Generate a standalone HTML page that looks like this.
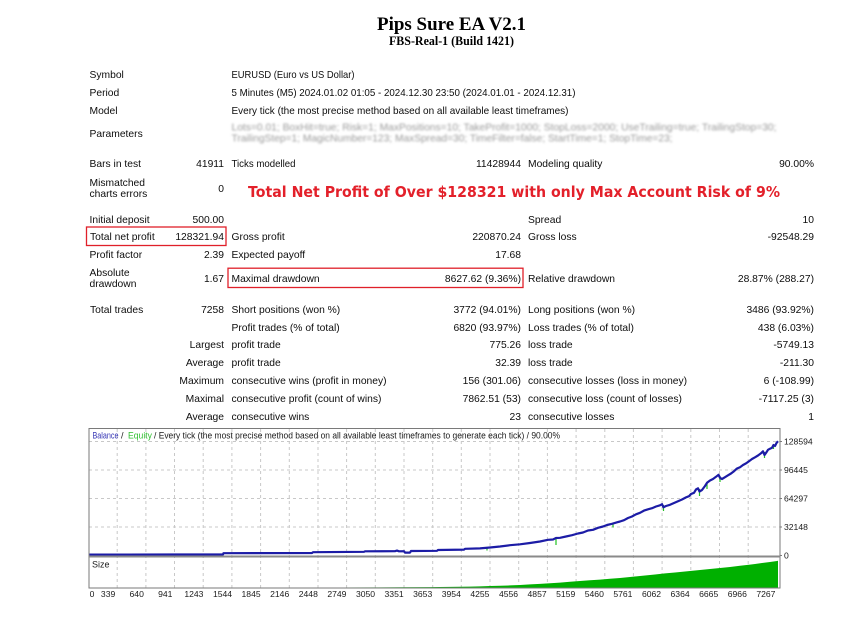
<!DOCTYPE html>
<html>
<head>
<meta charset="utf-8">
<style>
  html,body{margin:0;padding:0;background:#fff;}
  body{width:864px;height:619px;overflow:hidden;}
  svg{display:block;}
  .t{font-family:"Liberation Sans",Arial,sans-serif;font-size:10.3px;fill:#0d0d0d;}
  .ax{font-family:"Liberation Sans",Arial,sans-serif;font-size:8.6px;fill:#1a1a1a;}
  .lg{font-family:"Liberation Sans",Arial,sans-serif;font-size:9px;fill:#1a1a1a;}
</style>
</head>
<body>
<svg width="864" height="619" viewBox="0 0 864 619" xmlns="http://www.w3.org/2000/svg">
  <defs>
    <filter id="blur" x="-5%" y="-50%" width="110%" height="200%">
      <feGaussianBlur stdDeviation="0.95"/>
    </filter>
  </defs>
  <rect x="0" y="0" width="864" height="619" fill="#fff"/>

  <!-- Title -->
  <text x="451.5" y="30" text-anchor="middle" font-family="'Liberation Serif',serif" font-weight="bold" font-size="19" fill="#000" textLength="149" lengthAdjust="spacingAndGlyphs">Pips Sure EA V2.1</text>
  <text x="451.5" y="45" text-anchor="middle" font-family="'Liberation Serif',serif" font-weight="bold" font-size="12.5" fill="#000" textLength="125" lengthAdjust="spacingAndGlyphs">FBS-Real-1 (Build 1421)</text>

  <!-- Header rows -->
  <text class="t" x="89.5" y="78">Symbol</text>
  <text class="t" x="231.5" y="78" textLength="123" lengthAdjust="spacingAndGlyphs">EURUSD (Euro vs US Dollar)</text>

  <text class="t" x="89.5" y="96">Period</text>
  <text class="t" x="231.5" y="96" textLength="344" lengthAdjust="spacingAndGlyphs">5 Minutes (M5) 2024.01.02 01:05 - 2024.12.30 23:50 (2024.01.01 - 2024.12.31)</text>

  <text class="t" x="89.5" y="114">Model</text>
  <text class="t" x="231.5" y="114" textLength="337" lengthAdjust="spacingAndGlyphs">Every tick (the most precise method based on all available least timeframes)</text>

  <text class="t" x="89.5" y="137">Parameters</text>
  <g filter="url(#blur)">
    <text class="t" x="231.5" y="130.5" style="fill:#9a9a9a" textLength="545" lengthAdjust="spacingAndGlyphs">Lots=0.01; BoxHit=true; Risk=1; MaxPositions=10; TakeProfit=1000; StopLoss=2000; UseTrailing=true; TrailingStop=30;</text>
    <text class="t" x="231.5" y="141.5" style="fill:#9a9a9a" textLength="441" lengthAdjust="spacingAndGlyphs">TrailingStep=1; MagicNumber=123; MaxSpread=30; TimeFilter=false; StartTime=1; StopTime=23;</text>
  </g>

  <text class="t" x="89.5" y="167">Bars in test</text>
  <text class="t" x="224" y="167" text-anchor="end">41911</text>
  <text class="t" x="231.5" y="167" textLength="64" lengthAdjust="spacingAndGlyphs">Ticks modelled</text>
  <text class="t" x="521" y="167" text-anchor="end">11428944</text>
  <text class="t" x="528" y="167">Modeling quality</text>
  <text class="t" x="814" y="167" text-anchor="end">90.00%</text>

  <text class="t" x="89.5" y="186">Mismatched</text>
  <text class="t" x="89.5" y="197">charts errors</text>
  <text class="t" x="224" y="192" text-anchor="end">0</text>

  <!-- Red headline -->
  <text x="248" y="197" font-family="'DejaVu Sans','Liberation Sans',sans-serif" font-weight="bold" font-size="15.5" fill="#e3202a" textLength="532" lengthAdjust="spacingAndGlyphs">Total Net Profit of Over $128321 with only Max Account Risk of 9%</text>

  <!-- Stats -->
  <text class="t" x="89.5" y="223">Initial deposit</text>
  <text class="t" x="224" y="223" text-anchor="end">500.00</text>
  <text class="t" x="528" y="223">Spread</text>
  <text class="t" x="814" y="223" text-anchor="end">10</text>

  <text class="t" x="90" y="240">Total net profit</text>
  <text class="t" x="224" y="240" text-anchor="end">128321.94</text>
  <text class="t" x="231.5" y="240">Gross profit</text>
  <text class="t" x="521" y="240" text-anchor="end">220870.24</text>
  <text class="t" x="528" y="240">Gross loss</text>
  <text class="t" x="814" y="240" text-anchor="end">-92548.29</text>

  <text class="t" x="89.5" y="258">Profit factor</text>
  <text class="t" x="224" y="258" text-anchor="end">2.39</text>
  <text class="t" x="231.5" y="258">Expected payoff</text>
  <text class="t" x="521" y="258" text-anchor="end">17.68</text>

  <text class="t" x="89.5" y="276">Absolute</text>
  <text class="t" x="89.5" y="287">drawdown</text>
  <text class="t" x="224" y="282" text-anchor="end">1.67</text>
  <text class="t" x="231.5" y="282">Maximal drawdown</text>
  <text class="t" x="521" y="282" text-anchor="end">8627.62 (9.36%)</text>
  <text class="t" x="528" y="282">Relative drawdown</text>
  <text class="t" x="814" y="282" text-anchor="end">28.87% (288.27)</text>

  <text class="t" x="90" y="313">Total trades</text>
  <text class="t" x="224" y="313" text-anchor="end">7258</text>
  <text class="t" x="231.5" y="313">Short positions (won %)</text>
  <text class="t" x="521" y="313" text-anchor="end">3772 (94.01%)</text>
  <text class="t" x="528" y="313">Long positions (won %)</text>
  <text class="t" x="814" y="313" text-anchor="end">3486 (93.92%)</text>

  <text class="t" x="231.5" y="331">Profit trades (% of total)</text>
  <text class="t" x="521" y="331" text-anchor="end">6820 (93.97%)</text>
  <text class="t" x="528" y="331">Loss trades (% of total)</text>
  <text class="t" x="814" y="331" text-anchor="end">438 (6.03%)</text>

  <text class="t" x="224" y="348" text-anchor="end">Largest</text>
  <text class="t" x="231.5" y="348">profit trade</text>
  <text class="t" x="521" y="348" text-anchor="end">775.26</text>
  <text class="t" x="528" y="348">loss trade</text>
  <text class="t" x="814" y="348" text-anchor="end">-5749.13</text>

  <text class="t" x="224" y="366" text-anchor="end">Average</text>
  <text class="t" x="231.5" y="366">profit trade</text>
  <text class="t" x="521" y="366" text-anchor="end">32.39</text>
  <text class="t" x="528" y="366">loss trade</text>
  <text class="t" x="814" y="366" text-anchor="end">-211.30</text>

  <text class="t" x="224" y="384" text-anchor="end">Maximum</text>
  <text class="t" x="231.5" y="384">consecutive wins (profit in money)</text>
  <text class="t" x="521" y="384" text-anchor="end">156 (301.06)</text>
  <text class="t" x="528" y="384">consecutive losses (loss in money)</text>
  <text class="t" x="814" y="384" text-anchor="end">6 (-108.99)</text>

  <text class="t" x="224" y="402" text-anchor="end">Maximal</text>
  <text class="t" x="231.5" y="402">consecutive profit (count of wins)</text>
  <text class="t" x="521" y="402" text-anchor="end">7862.51 (53)</text>
  <text class="t" x="528" y="402">consecutive loss (count of losses)</text>
  <text class="t" x="814" y="402" text-anchor="end">-7117.25 (3)</text>

  <text class="t" x="224" y="420" text-anchor="end">Average</text>
  <text class="t" x="231.5" y="420">consecutive wins</text>
  <text class="t" x="521" y="420" text-anchor="end">23</text>
  <text class="t" x="528" y="420">consecutive losses</text>
  <text class="t" x="814" y="420" text-anchor="end">1</text>

  <!-- Red boxes -->
  <rect x="86.5" y="227" width="139.5" height="18.5" fill="none" stroke="#e0202a" stroke-width="1.3"/>
  <rect x="228" y="268.2" width="295" height="19.3" fill="none" stroke="#e0202a" stroke-width="1.3"/>

  <!-- Chart -->
  <g>
    <g stroke="#c8c8c8" stroke-width="1" stroke-dasharray="3,3">
      <line x1="89" y1="441.5" x2="780" y2="441.5"/>
      <line x1="89" y1="470" x2="780" y2="470"/>
      <line x1="89" y1="498.5" x2="780" y2="498.5"/>
      <line x1="89" y1="527" x2="780" y2="527"/>
    </g>
    <g stroke="#c8c8c8" stroke-width="1" stroke-dasharray="3,3">
      <line x1="117.2" y1="429" x2="117.2" y2="588"/>
      <line x1="145.9" y1="429" x2="145.9" y2="588"/>
      <line x1="174.5" y1="429" x2="174.5" y2="588"/>
      <line x1="203.2" y1="429" x2="203.2" y2="588"/>
      <line x1="231.9" y1="429" x2="231.9" y2="588"/>
      <line x1="260.6" y1="429" x2="260.6" y2="588"/>
      <line x1="289.3" y1="429" x2="289.3" y2="588"/>
      <line x1="318" y1="429" x2="318" y2="588"/>
      <line x1="346.6" y1="429" x2="346.6" y2="588"/>
      <line x1="375.3" y1="429" x2="375.3" y2="588"/>
      <line x1="404" y1="429" x2="404" y2="588"/>
      <line x1="432.7" y1="429" x2="432.7" y2="588"/>
      <line x1="461.3" y1="429" x2="461.3" y2="588"/>
      <line x1="490" y1="429" x2="490" y2="588"/>
      <line x1="518.7" y1="429" x2="518.7" y2="588"/>
      <line x1="547.4" y1="429" x2="547.4" y2="588"/>
      <line x1="576.1" y1="429" x2="576.1" y2="588"/>
      <line x1="604.8" y1="429" x2="604.8" y2="588"/>
      <line x1="633.4" y1="429" x2="633.4" y2="588"/>
      <line x1="662.1" y1="429" x2="662.1" y2="588"/>
      <line x1="690.8" y1="429" x2="690.8" y2="588"/>
      <line x1="719.5" y1="429" x2="719.5" y2="588"/>
      <line x1="748.2" y1="429" x2="748.2" y2="588"/>
    </g>

    <polygon fill="#00b000" points="89,588 89,587.7 300,587.6 400,587.3 430,587.1 450,586.9 470,586.6 480,586.4 490,586 500,585.8 510,585.4 520,585 530,584.4 540,583.9 550,583.3 560,582.6 570,581.8 580,581 590,580.3 600,579.6 610,578.8 620,578 630,577 640,576 650,575 655,574.5 665,573.4 675,572.5 680,572 690,571 700,570 705,569.5 715,568.5 725,567.5 730,567 740,565.8 750,564.6 755,564 762,563 770,562 777,561 778,560.8 778,588"/>

    <g stroke="#22c022" stroke-width="1.2">
      <line x1="487" y1="547.5" x2="487" y2="550.5"/>
      <line x1="556" y1="539" x2="556" y2="545"/>
      <line x1="613" y1="523.5" x2="613" y2="527.5"/>
      <line x1="663.5" y1="505" x2="663.5" y2="511"/>
      <line x1="699.5" y1="489" x2="699.5" y2="496"/>
      <line x1="707" y1="483" x2="707" y2="489"/>
      <line x1="720" y1="476" x2="720" y2="482"/>
      <line x1="764.5" y1="452" x2="764.5" y2="458"/>
      <line x1="773.5" y1="445" x2="773.5" y2="449"/>
    </g>

    <path fill="none" stroke="#1c1ca6" stroke-width="2.2" stroke-linejoin="round" d="M89.5,554.6 L223,554.4 L223.5,553.2 L312,553.0 L313,552.2 L364,551.8 L365,551.3 L395,551.2 L397,550.6 L399,551.3 L404,551.2 L405,552.6 L410,552.6 L411,551.0 L437,550.8 L438,550 L464,549.6 L465,548.8 L480,548.4 L490,547.5 L500,546.5 L510,545.2 L520,544.3 L530,543 L540,541.5 L548,539.8 L553,539.5 L556,538 L560,537.8 L566,536.5 L572,535.2 L578,533.5 L583,532.5 L588,530.5 L593,529.8 L598,527.8 L603,526.5 L607,525 L612,523.8 L617,522.3 L620,521.5 L624,520.2 L628,518 L632,516.5 L636,514.3 L640,512.8 L644,510.6 L648,509.3 L652,508.2 L656,506.5 L660,505.3 L662,504.2 L663.5,507.2 L666,506 L670,504.8 L674,503 L678,501.2 L682,499.5 L686,497.4 L689,496.2 L691,494 L694,492.8 L696,489.5 L698,488.3 L699.5,491.5 L702,490 L705,486 L707,482.8 L710,480.5 L713,479 L716,476.8 L718.5,474.8 L720,477.8 L722,479 L725,477.2 L728,475.3 L731,473.5 L734,471.2 L737,468.5 L740,467.2 L743,465 L746,463.4 L749,461.2 L752,459 L755,457.3 L758,455.5 L761,453.3 L763,451.3 L764.5,455 L766.5,452.2 L768,449.8 L770,448.7 L772,447.8 L773.5,445 L775,446 L776.5,443 L778,441.2"/>

    <rect x="89" y="428.5" width="691" height="159.5" fill="none" stroke="#7a7a7a" stroke-width="1"/>
    <line x1="89" y1="556.5" x2="780" y2="556.5" stroke="#8a8a8a" stroke-width="2"/>

    <g stroke="#7a7a7a" stroke-width="1">
      <line x1="780" y1="441.5" x2="782" y2="441.5"/>
      <line x1="780" y1="470" x2="782" y2="470"/>
      <line x1="780" y1="498.5" x2="782" y2="498.5"/>
      <line x1="780" y1="527" x2="782" y2="527"/>
      <line x1="780" y1="555.5" x2="782" y2="555.5"/>
    </g>

    <text class="lg" x="92.5" y="438.5" style="fill:#3535b5" textLength="26" lengthAdjust="spacingAndGlyphs">Balance</text>
    <text class="lg" x="121" y="438.5">/</text>
    <text class="lg" x="128" y="438.5" style="fill:#30c030" textLength="24" lengthAdjust="spacingAndGlyphs">Equity</text>
    <text class="lg" x="154" y="438.5" textLength="406" lengthAdjust="spacingAndGlyphs">/ Every tick (the most precise method based on all available least timeframes to generate each tick) / 90.00%</text>

    <text class="lg" x="92" y="567.5">Size</text>

    <text class="ax" x="784" y="444.5">128594</text>
    <text class="ax" x="784" y="473">96445</text>
    <text class="ax" x="784" y="501.5">64297</text>
    <text class="ax" x="784" y="530">32148</text>
    <text class="ax" x="784" y="558.5">0</text>

    <g text-anchor="middle">
      <text class="ax" x="92" y="597">0</text>
      <text class="ax" x="108.1" y="597">339</text>
      <text class="ax" x="136.7" y="597">640</text>
      <text class="ax" x="165.3" y="597">941</text>
      <text class="ax" x="193.9" y="597">1243</text>
      <text class="ax" x="222.5" y="597">1544</text>
      <text class="ax" x="251.1" y="597">1845</text>
      <text class="ax" x="279.7" y="597">2146</text>
      <text class="ax" x="308.3" y="597">2448</text>
      <text class="ax" x="336.9" y="597">2749</text>
      <text class="ax" x="365.5" y="597">3050</text>
      <text class="ax" x="394.1" y="597">3351</text>
      <text class="ax" x="422.7" y="597">3653</text>
      <text class="ax" x="451.3" y="597">3954</text>
      <text class="ax" x="479.9" y="597">4255</text>
      <text class="ax" x="508.5" y="597">4556</text>
      <text class="ax" x="537.1" y="597">4857</text>
      <text class="ax" x="565.7" y="597">5159</text>
      <text class="ax" x="594.3" y="597">5460</text>
      <text class="ax" x="622.9" y="597">5761</text>
      <text class="ax" x="651.5" y="597">6062</text>
      <text class="ax" x="680.1" y="597">6364</text>
      <text class="ax" x="708.7" y="597">6665</text>
      <text class="ax" x="737.3" y="597">6966</text>
      <text class="ax" x="765.9" y="597">7267</text>
    </g>
  </g>
</svg>
</body>
</html>
